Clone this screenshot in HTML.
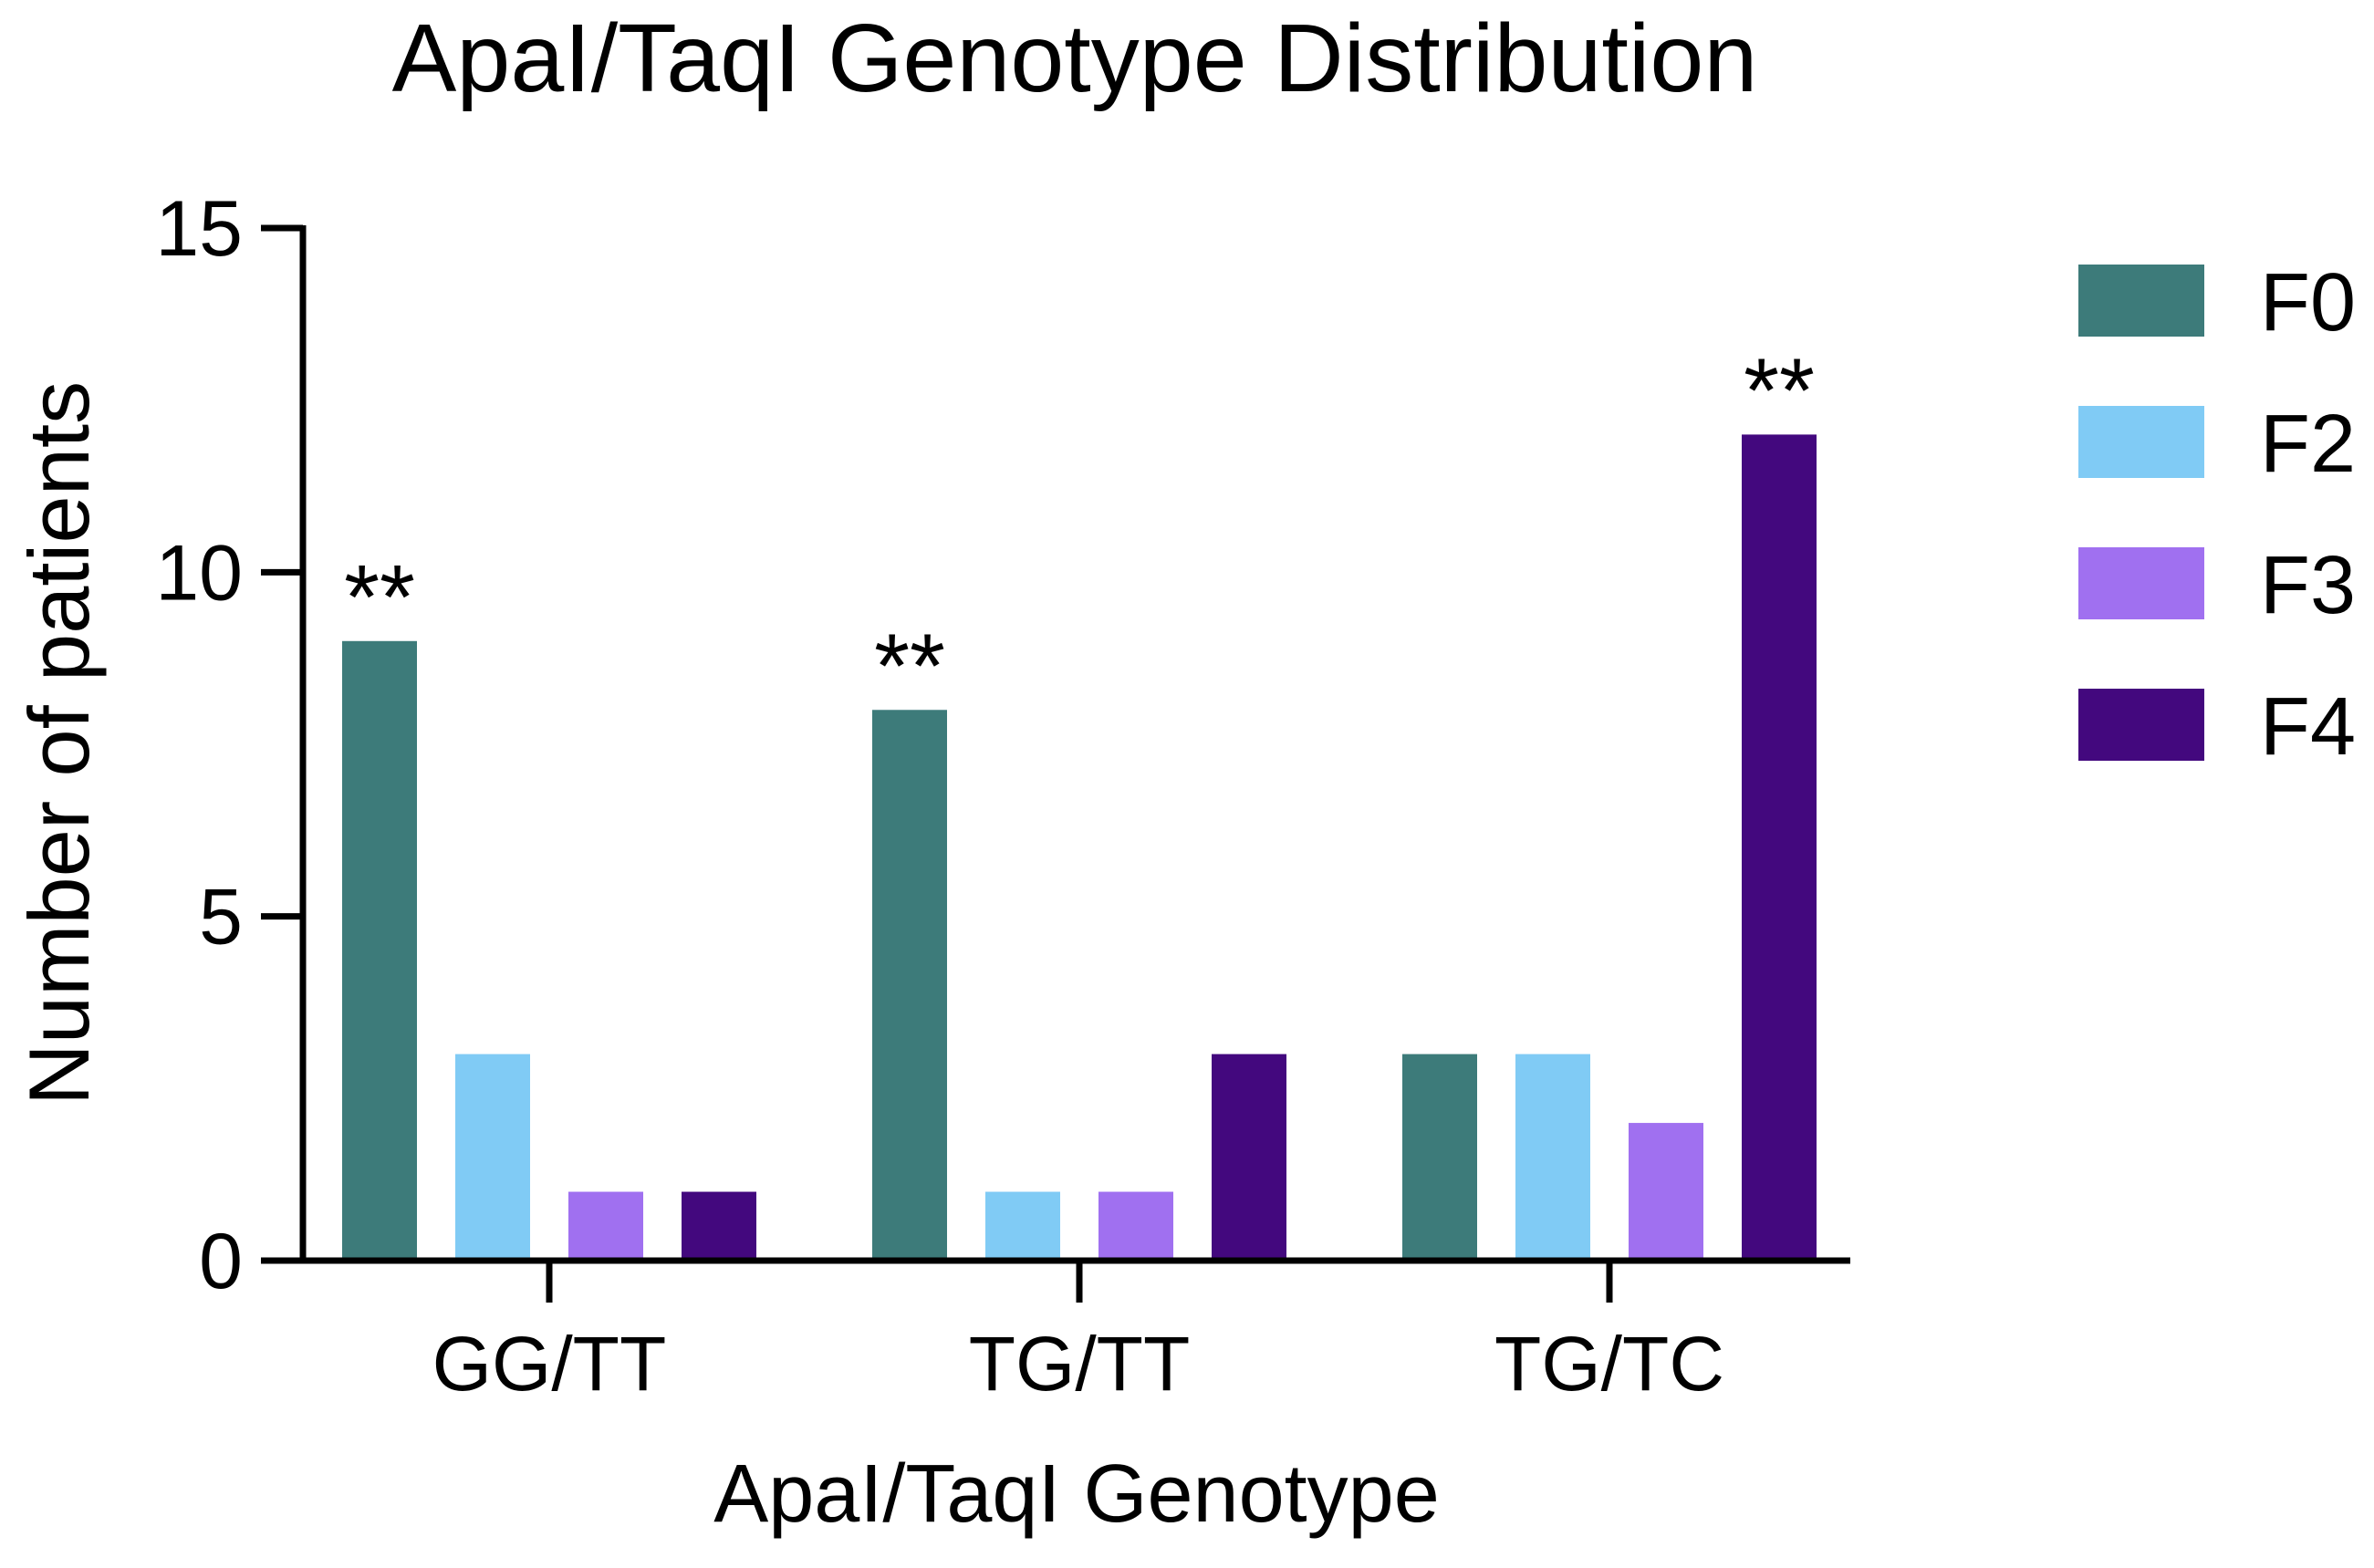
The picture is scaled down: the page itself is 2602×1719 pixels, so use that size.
<!DOCTYPE html>
<html><head><meta charset="utf-8"><style>
html,body{margin:0;padding:0;background:#fff}
svg{display:block;font-family:"Liberation Sans",Arial,sans-serif}
</style></head><body>
<svg id="chart" width="2602" height="1719" viewBox="0 0 2602 1719" xmlns="http://www.w3.org/2000/svg">
<text x="1178" y="100" font-size="106" text-anchor="middle" fill="#000">ApaI/TaqI Genotype Distribution</text>
<text transform="translate(97,815) rotate(-90)" font-size="94" text-anchor="middle" fill="#000">Number of patients</text>
<text x="1180" y="1668" font-size="90" text-anchor="middle" fill="#000">ApaI/TaqI Genotype</text>
<g id="bars"></g>
<g id="axes"></g>
<g id="legend"></g>
</svg>
<script>
const categories = ["GG/TT","TG/TT","TG/TC"];
const seriesNames = ["F0","F2","F3","F4"];
const F0 = [9,8,3];
const F2 = [3,1,3];
const F3 = [1,1,2];
const F4 = [1,3,12];
const yTicks = [0,5,10,15];
const significance = [["**","**",""],["","",""],["","",""],["","","**"]];
const colors = ["#3d7b7a","#80cbf5","#a070f0","#43087e"];
const NS="http://www.w3.org/2000/svg";
const series=[F0,F2,F3,F4];
const y0=1382,y15=250,yMax=15;
const yScale=v=>y0-(y0-y15)*v/yMax;
const xCenter=i=>602+581*i;
const barW=82,pitch=124;
function mk(tag,attrs,parent){const e=document.createElementNS(NS,tag);for(const k in attrs)e.setAttribute(k,attrs[k]);parent.appendChild(e);return e;}
const bars=document.getElementById('bars'),axes=document.getElementById('axes'),legend=document.getElementById('legend');
series.forEach((s,si)=>{s.forEach((v,ci)=>{
  const cx=xCenter(ci)+(si-1.5)*pitch;
  const r=mk('rect',{x:cx-barW/2,y:yScale(v),width:barW,height:y0-yScale(v),fill:colors[si]},bars);
  
  
  const sig=significance[si][ci];
  if(sig){const t=mk('text',{x:cx,y:yScale(v)-14,'font-size':100,'text-anchor':'middle',fill:'#000'},bars);t.textContent=sig;
  
  }
});});
const ya=mk('line',{x1:332,y1:y15-3,x2:332,y2:y0+3,stroke:'#000','stroke-width':7},axes);


const xa=mk('line',{x1:286,y1:y0,x2:2028,y2:y0,stroke:'#000','stroke-width':7},axes);


yTicks.forEach(v=>{
  const l=mk('line',{x1:286,y1:yScale(v),x2:332,y2:yScale(v),stroke:'#000','stroke-width':7},axes);
  
  
  const t=mk('text',{x:266,y:yScale(v)+30,'font-size':86,'text-anchor':'end',fill:'#000'},axes);t.textContent=v;
  
  
});
categories.forEach((c,i)=>{
  const l=mk('line',{x1:xCenter(i),y1:y0,x2:xCenter(i),y2:y0+46,stroke:'#000','stroke-width':7},axes);
  
  
  const t=mk('text',{x:xCenter(i),y:1524,'font-size':84,'text-anchor':'middle',fill:'#000'},axes);t.textContent=c;
  
  
});
seriesNames.forEach((n,i)=>{
  const y=290+155*i;
  const r=mk('rect',{x:2278,y:y,width:138,height:79,fill:colors[i]},legend);
  
  
  const t=mk('text',{x:2477,y:y+72,'font-size':90,fill:'#000'},legend);t.textContent=n;
  
  
});
</script>
</body></html>
